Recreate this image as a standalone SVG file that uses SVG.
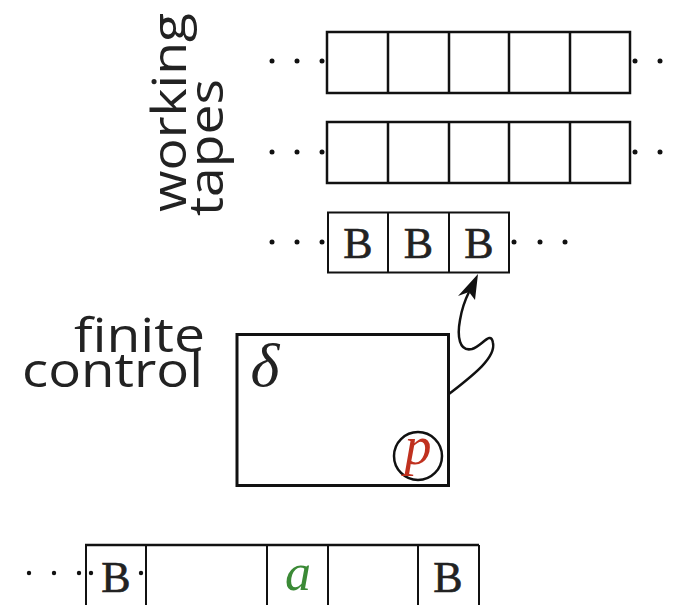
<svg xmlns="http://www.w3.org/2000/svg" width="676" height="605" viewBox="0 0 676 605">
<style>
.lbl{font-family:"Open Sans","DejaVu Sans",sans-serif;font-size:48px;fill:#222;}
.tape{fill:none;stroke:#111;stroke-width:2.5;}
.tape3{fill:none;stroke:#111;stroke-width:2;}
.dot{fill:#111;}
.tt{font-family:"Liberation Serif","DejaVu Serif",serif;font-size:44px;fill:#222;stroke:#222;stroke-width:0.6;text-anchor:middle;}
.math{font-family:"Liberation Serif","DejaVu Serif",serif;font-style:italic;text-anchor:middle;}
</style>
<rect width="676" height="605" fill="#fff"/>
<g id="label-working-tapes">
<text class="lbl" transform="translate(186,212) rotate(-90)" textLength="199" lengthAdjust="spacingAndGlyphs">working</text>
<text class="lbl" transform="translate(223,216) rotate(-90)" textLength="137" lengthAdjust="spacingAndGlyphs">tapes</text>
</g>
<g id="tape1">
<rect class="tape" x="327" y="32" width="303" height="61"/>
<path class="tape" d="M388,32V93M449,32V93M509,32V93M570,32V93"/>
<circle class="dot" cx="272" cy="61" r="2.5"/><circle class="dot" cx="297" cy="61" r="2.5"/><circle class="dot" cx="322" cy="61" r="2.5"/>
<circle class="dot" cx="635" cy="61" r="2.5"/><circle class="dot" cx="660" cy="61" r="2.5"/>
</g>
<g id="tape2">
<rect class="tape" x="327" y="122" width="303" height="61"/>
<path class="tape" d="M388,122V183M449,122V183M509,122V183M570,122V183"/>
<circle class="dot" cx="272" cy="152" r="2.5"/><circle class="dot" cx="297" cy="152" r="2.5"/><circle class="dot" cx="322" cy="152" r="2.5"/>
<circle class="dot" cx="635" cy="152" r="2.5"/><circle class="dot" cx="660" cy="152" r="2.5"/>
</g>
<g id="tape3">
<rect class="tape3" x="328" y="212.5" width="181" height="60"/>
<path class="tape3" d="M388,212.5V272.5M449,212.5V272.5"/>
<circle class="dot" cx="272" cy="242" r="2.5"/><circle class="dot" cx="297" cy="242" r="2.5"/><circle class="dot" cx="322" cy="242" r="2.5"/>
<circle class="dot" cx="514" cy="242" r="2.5"/><circle class="dot" cx="540" cy="242" r="2.5"/><circle class="dot" cx="565" cy="242" r="2.5"/>
<text class="tt" x="358" y="258">B</text>
<text class="tt" x="418.5" y="258">B</text>
<text class="tt" x="479" y="258">B</text>
</g>
<g id="label-finite-control">
<text class="lbl" x="205" y="352" text-anchor="end" textLength="131" lengthAdjust="spacingAndGlyphs">finite</text>
<text class="lbl" x="203" y="387" text-anchor="end" textLength="181" lengthAdjust="spacingAndGlyphs">control</text>
</g>
<g id="finite-control">
<rect x="237" y="334.5" width="211.5" height="151" fill="none" stroke="#111" stroke-width="3"/>
<text class="math" x="265" y="386" font-size="62" fill="#222">δ</text>
<circle cx="418" cy="456" r="24" fill="none" stroke="#111" stroke-width="2.5"/>
<text class="math" x="418" y="464" font-size="54" fill="#c0311f">p</text>
</g>
<g id="input-tape">
<path d="M85,545H479" fill="none" stroke="#111" stroke-width="2.5"/>
<path d="M86,545V605M146,545V605M267,545V605M328,545V605M418,545V605M479,545V605" fill="none" stroke="#111" stroke-width="2"/>
<circle class="dot" cx="29" cy="573" r="2.2"/><circle class="dot" cx="54" cy="573" r="2.2"/><circle class="dot" cx="79" cy="573" r="2.2"/>
<circle class="dot" cx="91" cy="573" r="2.2"/><circle class="dot" cx="141" cy="573" r="2.2"/>
<text class="tt" x="116" y="592">B</text>
<text class="math" x="298" y="590" font-size="52" fill="#3b8a36">a</text>
<text class="tt" x="448" y="592">B</text>
</g>
<g id="connectors">
<path d="M449,394 C472,376 496,358 493,343 C491,330 482,346 472,349 C459,352 457,336 460,320 C462,308 465,300 469,292" fill="none" stroke="#111" stroke-width="2.5"/>
<polygon points="478,274 475,300 469,292 458,296" fill="#111"/>
</g>
</svg>
